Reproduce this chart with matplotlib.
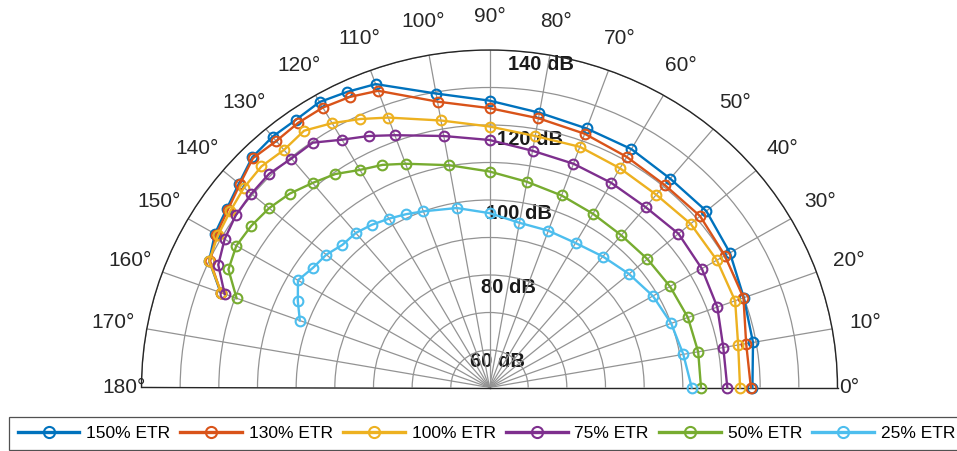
import numpy as np
import matplotlib
matplotlib.use("Agg")
import matplotlib.pyplot as plt

plt.rcParams["font.family"] = ["Liberation Sans", "DejaVu Sans"]

# Measurement angles (degrees)
angles_deg = [0, 10, 20, 30, 40, 50, 60, 70, 80, 90, 100, 110,
              115, 120, 125, 130, 135, 140, 145, 150, 155, 160]

# Sound pressure level (dB) per excitation level
etr_150 = [128.0, 129.2, 130.0, 131.8, 133.2, 132.7, 133.4, 133.5, 134.4, 136.5, 139.6, 146.1,
           147.0, 147.9, 147.2, 147.3, 146.8, 144.6, 143.0, 142.0, 140.0, 134.0]
etr_130 = [127.6, 127.4, 129.9, 130.3, 131.1, 130.5, 131.0, 132.0, 132.9, 134.5, 137.4, 144.2,
           145.5, 146.2, 146.2, 145.8, 146.5, 144.3, 142.6, 141.6, 139.7, 133.9]
etr_100 = [124.8, 125.3, 127.6, 127.9, 127.9, 127.1, 127.5, 128.3, 128.1, 129.6, 132.3, 136.6,
           139.0, 141.4, 143.6, 142.7, 143.4, 142.9, 141.9, 141.1, 140.0, 133.8]
etr_75 = [121.5, 121.4, 122.7, 123.4, 123.8, 122.8, 123.0, 123.5, 124.1, 126.0, 128.1, 131.6,
          134.0, 136.3, 139.7, 139.7, 140.6, 140.4, 140.1, 139.1, 137.4, 132.9]
etr_50 = [114.7, 114.8, 114.6, 113.9, 113.3, 113.0, 113.5, 114.5, 115.7, 117.6, 120.2, 123.5,
          125.5, 127.0, 129.5, 131.2, 133.1, 134.4, 135.2, 135.6, 134.5, 129.6]
etr_25 = [112.3, 110.9, 110.0, 108.8, 107.1, 105.6, 104.5, 104.5, 104.6, 106.5, 108.6, 110.0,
          111.0, 112.0, 113.0, 113.8, 113.8, 115.1, 115.7, 117.2, 114.7, 112.2]

series_labels = ["150% ETR", "130% ETR", "100% ETR", "75% ETR", "50% ETR", "25% ETR"]
series_values = [etr_150, etr_130, etr_100, etr_75, etr_50, etr_25]
series_colors = ["#0072BD", "#D95319", "#EDB120", "#7E2F8E", "#77AC30", "#4DBEEE"]

r_min, r_max = 60, 150
ring_ticks = list(range(60, 151, 10))
ring_labels = [60, 80, 100, 120, 140]
theta_ticks = list(range(0, 181, 10))

W, H = 957, 451
fig = plt.figure(figsize=(W / 100, H / 100), dpi=100)

# half-disc geometry in pixels (centre, horizontal and vertical radius)
cx, cy = 489.5, 387.5
rx, ry = 348.0, 337.5
ax_h = 2 * ry
ax_top = (cy - ry) - 0.25 * ax_h
ax = fig.add_axes([(cx - rx) / W, (H - (ax_top + ax_h)) / H, 2 * rx / W, ax_h / H],
                  projection="polar")
ax.set_thetamin(0)
ax.set_thetamax(180)
ax.set_aspect("auto")
ax.set_rlim(r_min, r_max)

ax.set_thetagrids(theta_ticks, labels=[""] * len(theta_ticks))
ax.set_rticks(ring_ticks)
ax.set_yticklabels([])
ax.grid(True, color="#939393", linewidth=0.9)
for name in ("polar", "start", "end"):
    ax.spines[name].set_color("#262626")
    ax.spines[name].set_linewidth(1.0)
ax.spines["inner"].set_visible(False)
ax.tick_params(length=0)

theta = np.deg2rad(angles_deg)
for lab, vals, col in zip(series_labels, series_values, series_colors):
    ax.plot(theta, vals, color=col, linewidth=1.7, marker="o", markersize=7,
            markerfacecolor="none", markeredgewidth=1.5, label=lab, zorder=3, clip_on=False)

# ring labels
for r in ring_labels:
    ax.annotate(f"{r} dB", xy=(np.deg2rad(82), r), xytext=(5.8, 18.4),
                textcoords="offset points", ha="center", va="center",
                fontsize=14.5, fontweight="bold", color="#1a1a1a",
                annotation_clip=False, zorder=1)

# angle labels
for t in theta_ticks:
    a = np.deg2rad(t)
    if t == 0:
        d = 12
    elif t == 180:
        d = 17
    else:
        d = 34
    ax.annotate(f"{t}\u00b0", xy=(a, r_max), xytext=(d * 0.72 * np.cos(a), d * 0.72 * np.sin(a)),
                textcoords="offset points", ha="center", va="center",
                fontsize=15, color="#262626", annotation_clip=False)

leg = fig.legend(loc="lower left", bbox_to_anchor=(9 / W, 1 / H), ncol=6,
                 fontsize=12.5, handlelength=3.56, handletextpad=0.4,
                 columnspacing=0.57, borderpad=0.5, borderaxespad=0,
                 frameon=True, fancybox=False)
leg.get_frame().set_edgecolor("#262626")
leg.get_frame().set_linewidth(0.9)
for h in leg.legend_handles:
    h.set_linewidth(2.4)
    h.set_markersize(8)

fig.savefig("out.png", dpi=100)
